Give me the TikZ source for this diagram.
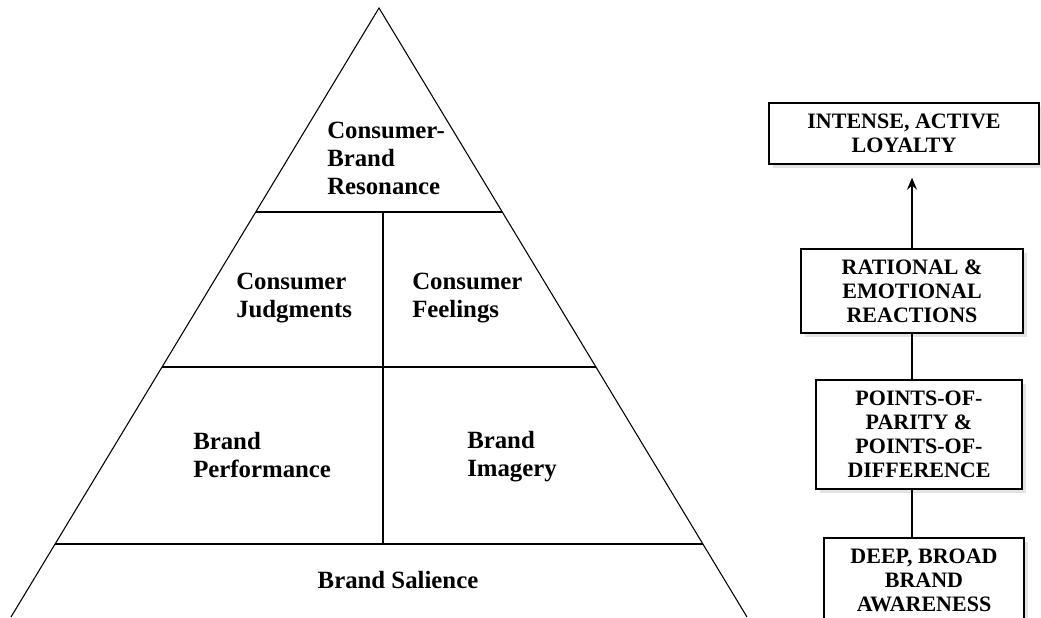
\documentclass[tikz,border=0pt]{standalone}
\usepackage{fontspec}
\setmainfont{Liberation Serif}
\usetikzlibrary{shadows,arrows.meta}

\begin{document}
\begin{tikzpicture}[x=0.75pt,y=-0.75pt,
        lvl/.style={font=\fontsize{18.6}{21}\selectfont\bfseries, align=left, anchor=west, inner sep=0pt},
        stage/.style={draw, line width=1pt, fill=white, align=center, inner sep=0pt,
                font=\fontsize{16.5}{18}\selectfont\bfseries,
                drop shadow={shadow xshift=3pt, shadow yshift=-3pt, opacity=0.22}}]
            \clip (0,0) rectangle (1041,617);

            \draw[line width=0.8pt] (11,617) -- (379,8) -- (747,617);
            \foreach \y/\w in {212/123.3,367/216.9,544/323.9}{
                    \draw[line width=0.8pt] (379-\w,\y) -- (379+\w,\y);
                }
            \draw[line width=0.8pt] (383,212) -- (383,544);

            \node[lvl] (resonance) at (327,158) {Consumer-\\Brand\\Resonance};
            \node[lvl] (judgments) at (236,298) {Consumer\\Judgments};
            \node[lvl] (feelings) at (412,298) {Consumer\\Feelings};
            \node[lvl] (performance) at (193,455) {Brand\\Performance};
            \node[lvl] (imagery) at (467,457) {Brand\\Imagery};
            \node[lvl,anchor=center] (salience) at (398,580) {Brand Salience};

            \node[stage, minimum width=202.5pt, minimum height=45.75pt] (loyalty) at (904,133.5) {INTENSE, ACTIVE\\LOYALTY};
            \node[stage, minimum width=166.5pt, minimum height=63pt] (reactions) at (912,291) {RATIONAL \&\\EMOTIONAL\\REACTIONS};
            \node[stage, minimum width=154.5pt, minimum height=81.75pt] (parity) at (919,434.5) {POINTS-OF-\\PARITY \&\\POINTS-OF-\\DIFFERENCE};
            \node[stage, minimum width=150pt, minimum height=63pt] (awareness) at (924,580) {DEEP, BROAD\\BRAND\\AWARENESS};

            \draw[line width=1pt, -{Stealth[length=9pt,width=7.5pt,inset=3pt]}, shorten >=9.75pt] (reactions.north) -- (reactions.north |- loyalty.south);
            \draw[line width=1pt] (reactions.south) -- (reactions.south |- parity.north);
            \draw[line width=1pt] (parity.south -| reactions.south) -- (awareness.north -| reactions.south);
        \end{tikzpicture}
\end{document}
